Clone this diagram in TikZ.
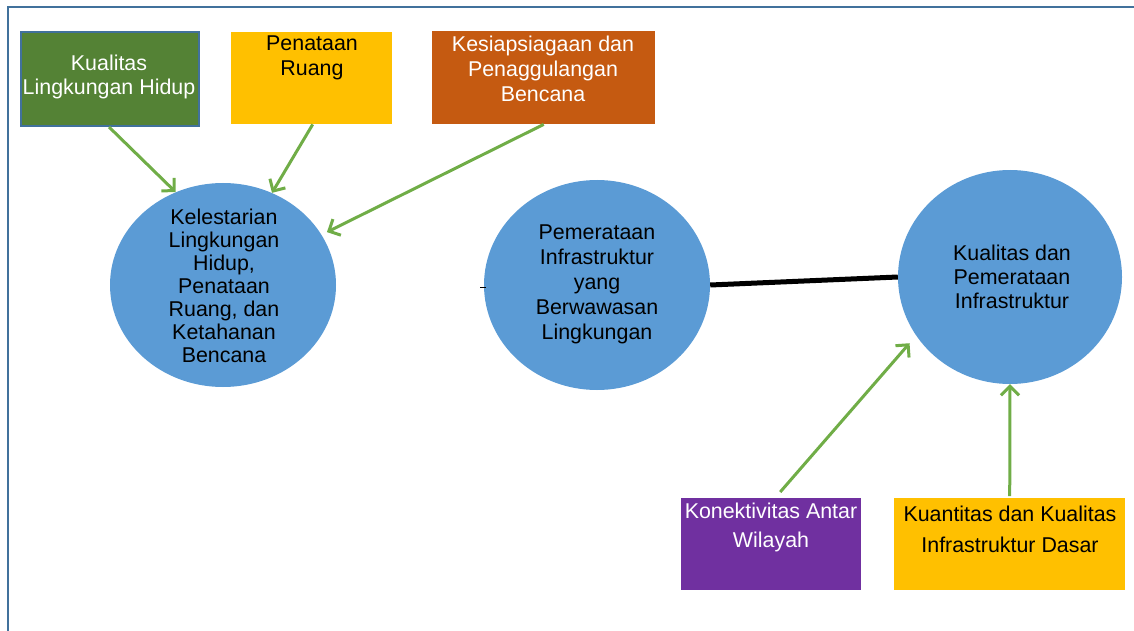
\documentclass[tikz,border=0pt]{standalone}
\usepackage{fontspec}
\setmainfont{Liberation Sans}
\usetikzlibrary{arrows.meta,shapes.geometric,calc}
\definecolor{frameblue}{HTML}{41719C}
\definecolor{circblue}{HTML}{5B9BD5}
\definecolor{boxgreen}{HTML}{548235}
\definecolor{boxgold}{HTML}{FFC000}
\definecolor{boxbrown}{HTML}{C55A11}
\definecolor{boxpurple}{HTML}{7030A0}
\definecolor{arrowgreen}{HTML}{70AD47}
\begin{document}
\begin{tikzpicture}[x=1pt,y=-1pt,
  boxshape/.style={rectangle, inner sep=0pt, anchor=north west},
  circshape/.style={ellipse, inner sep=0pt, fill=circblue, minimum width=226pt},
  txt/.style={inner sep=0pt, align=center, font=\fontsize{21.4}{#1}\selectfont},
  txt/.default=24,
  conn/.style={draw=arrowgreen, line width=3pt, -{Straight Barb[length=9pt,width=18pt,line width=3pt]}}
]
\useasboundingbox (0,0) rectangle (1134,631);
% frame
\draw[frameblue, line width=2.5pt] (8,631) -- (8,7) -- (1134,7);

% top boxes
\node[boxshape, fill=boxgreen, draw=frameblue, line width=2pt, minimum width=178pt, minimum height=94pt] (g) at (20,31) {};
\node[txt, text=white] (gt) at (109,77) {Kualitas\\Lingkungan Hidup};
\node[boxshape, fill=boxgold, minimum width=161pt, minimum height=92pt] (p) at (231,32) {};
\node[txt=25, text=black] (pt) at (312,58) {Penataan\\Ruang};
\node[boxshape, fill=boxbrown, minimum width=223pt, minimum height=93pt] (k) at (432,31) {};
\node[txt=25, text=white] (kt) at (543,69) {Kesiapsiagaan dan\\Penaggulangan\\Bencana};

% circles
\node[circshape, minimum height=204pt] (c1) at (223,285) {};
\node[txt=23] (c1t) at (224,286) {Kelestarian\\Lingkungan\\Hidup,\\Penataan\\Ruang, dan\\Ketahanan\\Bencana};
\node[circshape, minimum height=210pt] (c2) at (597,285) {};
\node[txt=25] (c2t) at (597,284) {Pemerataan\\Infrastruktur\\yang\\Berwawasan\\Lingkungan};
\node[circshape, minimum width=224pt, minimum height=214pt] (c3) at (1010,277) {};
\node[txt=24] (c3t) at (1012,277) {Kualitas dan\\Pemerataan\\Infrastruktur};

% bottom boxes
\node[boxshape, fill=boxpurple, minimum width=180pt, minimum height=92pt] (kon) at (681,498) {};
\node[txt=29, text=white] (kont) at (771,527) {Konektivitas Antar\\Wilayah};
\node[boxshape, fill=boxgold, minimum width=231pt, minimum height=92pt] (kua) at (894,498) {};
\node[txt=31, text=black] (kuat) at (1010,529) {Kuantitas dan Kualitas\\Infrastruktur Dasar};

% connectors
\draw[conn] ([xshift=-1pt]g.south) -- (c1.117);
\draw[conn] ([xshift=1pt]p.south) -- (c1.62);
\draw[conn, shorten >=6pt] (k.south) -- (c1.27);
\draw[conn, shorten >=10pt] ([xshift=9pt,yshift=6pt]kon.north) -- (c3.212);
\draw[conn, shorten <=2pt] (kua.north) -- (c3.south);
\draw[black, line width=5pt] (c2.east) -- (c3.west);
\coordinate (tick) at (480,287);
\coordinate (tickend) at (486,287);
\draw[black, line width=0.8pt] (tick) -- (tickend);
\end{tikzpicture}
\end{document}
